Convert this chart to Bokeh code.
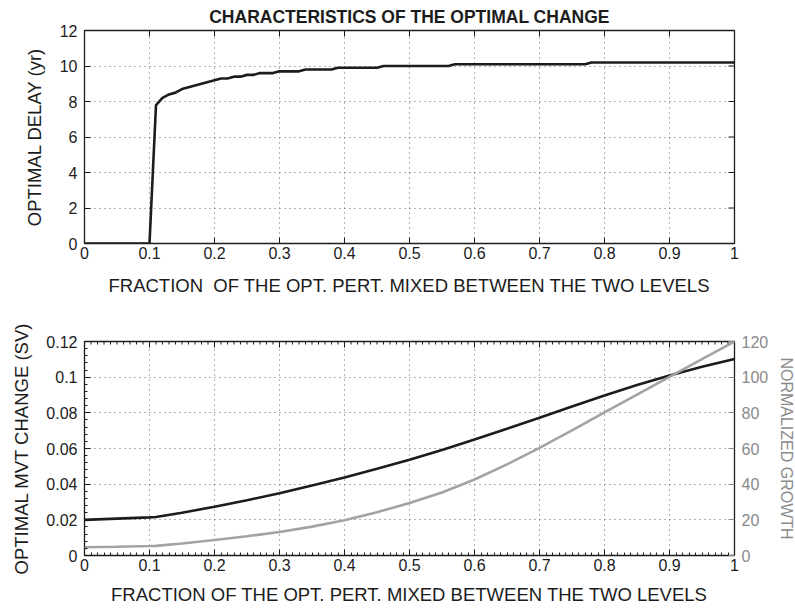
import math

from bokeh.plotting import figure
from bokeh.layouts import column
from bokeh.models import Range1d, LinearAxis, FixedTicker
from bokeh.embed import file_html
from bokeh.resources import INLINE

# ---- top panel: optimal delay vs fraction of the perturbation mixed ----
mix_frac = [0.00, 0.10, 0.11, 0.12, 0.13, 0.14, 0.15, 0.16, 0.17, 0.18, 0.19,
            0.20, 0.21, 0.22, 0.23, 0.24, 0.25, 0.26, 0.27, 0.29, 0.30, 0.33,
            0.34, 0.38, 0.39, 0.45, 0.46, 0.56, 0.57, 0.77, 0.78, 1.00]
delay_yr = [0.0, 0.0, 7.8, 8.2, 8.4, 8.5, 8.7, 8.8, 8.9, 9.0, 9.1,
            9.2, 9.3, 9.3, 9.4, 9.4, 9.5, 9.5, 9.6, 9.6, 9.7, 9.7,
            9.8, 9.8, 9.9, 9.9, 10.0, 10.0, 10.1, 10.1, 10.2, 10.2]

# ---- bottom panel: optimal MVT change and normalized growth ----
frac = [0.00, 0.05, 0.10, 0.11, 0.15, 0.20, 0.25, 0.30, 0.35, 0.40, 0.45,
        0.50, 0.55, 0.60, 0.65, 0.70, 0.75, 0.80, 0.85, 0.90, 0.95, 1.00]
mvt_change = [0.0200, 0.0207, 0.0214, 0.0216, 0.0240, 0.0273, 0.0310, 0.0349,
              0.0392, 0.0437, 0.0486, 0.0537, 0.0592, 0.0650, 0.0711, 0.0773,
              0.0836, 0.0897, 0.0956, 0.1010, 0.1058, 0.1102]
norm_growth = [4.6, 4.9, 5.3, 5.4, 6.7, 8.7, 10.8, 13.2, 16.2, 19.8, 24.2,
               29.5, 35.3, 42.6, 51.1, 60.4, 70.2, 80.2, 90.2, 100.2, 110.1, 120.0]

x_ticks = [0, 0.1, 0.2, 0.3, 0.4, 0.5, 0.6, 0.7, 0.8, 0.9, 1]
x_tick_labels = ["0", "0.1", "0.2", "0.3", "0.4", "0.5", "0.6", "0.7", "0.8", "0.9", "1"]
x_minor = [i / 100 for i in range(101)]
delay_ticks = [0, 2, 4, 6, 8, 10, 12]
mvt_ticks = [0, 0.02, 0.04, 0.06, 0.08, 0.1, 0.12]
mvt_tick_labels = ["0", "0.02", "0.04", "0.06", "0.08", "0.1", "0.12"]
mvt_minor = [i * 0.004 for i in range(31)]
growth_ticks = [0, 20, 40, 60, 80, 100, 120]

X_MIN, X_MAX = 0, 1
DELAY_MIN, DELAY_MAX = 0, 12
MVT_MIN, MVT_MAX = 0, 0.12
GROWTH_MIN, GROWTH_MAX = 0, 120

FONT = "Liberation Sans"
INK = "#1c1c1c"
GREY = "#a3a3a3"
GREY_TXT = "#8a8a8a"


def style_axis(ax, color=INK, label_size="18.5px"):
    ax.major_tick_in = 6
    ax.major_tick_out = 0
    ax.minor_tick_line_color = None
    ax.axis_line_color = None
    ax.major_tick_line_color = color
    ax.major_tick_line_width = 1
    ax.major_label_text_font = FONT
    ax.major_label_text_color = color
    ax.major_label_text_font_size = "16px"
    ax.axis_label_text_font = FONT
    ax.axis_label_text_color = color
    ax.axis_label_text_font_style = "normal"
    ax.axis_label_text_font_size = label_size


def style_frame(p):
    p.outline_line_color = INK
    p.outline_line_width = 1.3
    p.outline_line_alpha = 1
    p.background_fill_color = "white"
    p.border_fill_color = "white"
    for g in (p.xgrid[0], p.ygrid[0]):
        g.grid_line_color = "#333333"
        g.grid_line_dash = "1 4"
        g.grid_line_alpha = 0.75
        g.grid_line_width = 1


def edge_ticks(p, xs, y_edge, size, y_range_name="default", color=INK):
    # inward tick marks on the top edge (half of each dash is clipped by the frame)
    p.scatter(xs, [y_edge] * len(xs), marker="dash", size=size, angle=math.pi / 2,
              line_color=color, line_width=1, y_range_name=y_range_name)


def side_ticks(p, ys, x_edge, size, color=INK):
    # inward tick marks on the right edge
    p.scatter([x_edge] * len(ys), ys, marker="dash", size=size, angle=0,
              line_color=color, line_width=1)


# ---------------- top figure ----------------
p1 = figure(frame_width=650, frame_height=213, output_backend="svg",
            toolbar_location=None, x_range=Range1d(X_MIN, X_MAX),
            y_range=Range1d(DELAY_MIN, DELAY_MAX),
            min_border_left=84, min_border_right=61, min_border_top=30,
            min_border_bottom=57)
p1.title.text = "CHARACTERISTICS OF THE OPTIMAL CHANGE"
p1.title.align = "center"
p1.title.text_font = FONT
p1.title.text_font_size = "17.5px"
p1.title.text_font_style = "bold"
p1.title.text_color = INK
p1.title.standoff = 7

p1.xaxis.ticker = FixedTicker(ticks=x_ticks)
p1.xaxis.major_label_overrides = dict(zip(x_ticks, x_tick_labels))
p1.yaxis.ticker = FixedTicker(ticks=delay_ticks)
p1.xaxis.axis_label = "FRACTION\u00a0 OF THE OPT. PERT. MIXED BETWEEN THE TWO LEVELS"
p1.yaxis.axis_label = "OPTIMAL DELAY (yr)"
style_axis(p1.xaxis[0])
style_axis(p1.yaxis[0])
p1.xaxis.major_label_standoff = 3
p1.xaxis.axis_label_standoff = 13
p1.yaxis.major_label_standoff = 7
p1.yaxis.axis_label_standoff = 12
style_frame(p1)

edge_ticks(p1, x_ticks, DELAY_MAX, 12)
side_ticks(p1, delay_ticks, X_MAX, 12)

p1.line(mix_frac, delay_yr, line_color=INK, line_width=2.6)

# ---------------- bottom figure ----------------
p2 = figure(frame_width=650, frame_height=214, output_backend="svg",
            toolbar_location=None, x_range=Range1d(X_MIN, X_MAX),
            y_range=Range1d(MVT_MIN, MVT_MAX),
            min_border_left=84, min_border_right=61, min_border_top=41,
            min_border_bottom=55)
p2.extra_y_ranges = {"growth": Range1d(GROWTH_MIN, GROWTH_MAX)}

p2.xaxis.ticker = FixedTicker(ticks=x_ticks, minor_ticks=x_minor)
p2.xaxis.major_label_overrides = dict(zip(x_ticks, x_tick_labels))
p2.yaxis.ticker = FixedTicker(ticks=mvt_ticks, minor_ticks=mvt_minor)
p2.yaxis.major_label_overrides = dict(zip(mvt_ticks, mvt_tick_labels))
p2.xaxis.axis_label = "FRACTION OF THE OPT. PERT. MIXED BETWEEN THE TWO LEVELS"
p2.yaxis.axis_label = "OPTIMAL MVT CHANGE (SV)"
style_axis(p2.xaxis[0])
style_axis(p2.yaxis[0])
p2.xaxis.major_label_standoff = 3
p2.xaxis.axis_label_standoff = 10
p2.yaxis.major_label_standoff = 7
p2.yaxis.axis_label_standoff = 11
for ax in (p2.xaxis[0], p2.yaxis[0]):
    ax.minor_tick_line_color = INK
    ax.minor_tick_in = 3
    ax.minor_tick_out = 0

right2 = LinearAxis(y_range_name="growth", ticker=FixedTicker(ticks=growth_ticks),
                    axis_label="NORMALIZED GROWTH")
style_axis(right2, color=GREY_TXT, label_size="16px")
right2.major_label_standoff = 7
right2.axis_label_standoff = 7
p2.add_layout(right2, "right")
style_frame(p2)

edge_ticks(p2, x_minor, MVT_MAX, 6)
edge_ticks(p2, x_ticks, MVT_MAX, 12)

p2.line(frac, mvt_change, line_color=INK, line_width=2.6)
p2.line(frac, norm_growth, y_range_name="growth", line_color=GREY, line_width=2.6)

layout = column(p1, p2, spacing=0)
html = file_html(layout, INLINE, "Characteristics of the optimal change")
with open("out.html", "w") as f:
    f.write(html)
